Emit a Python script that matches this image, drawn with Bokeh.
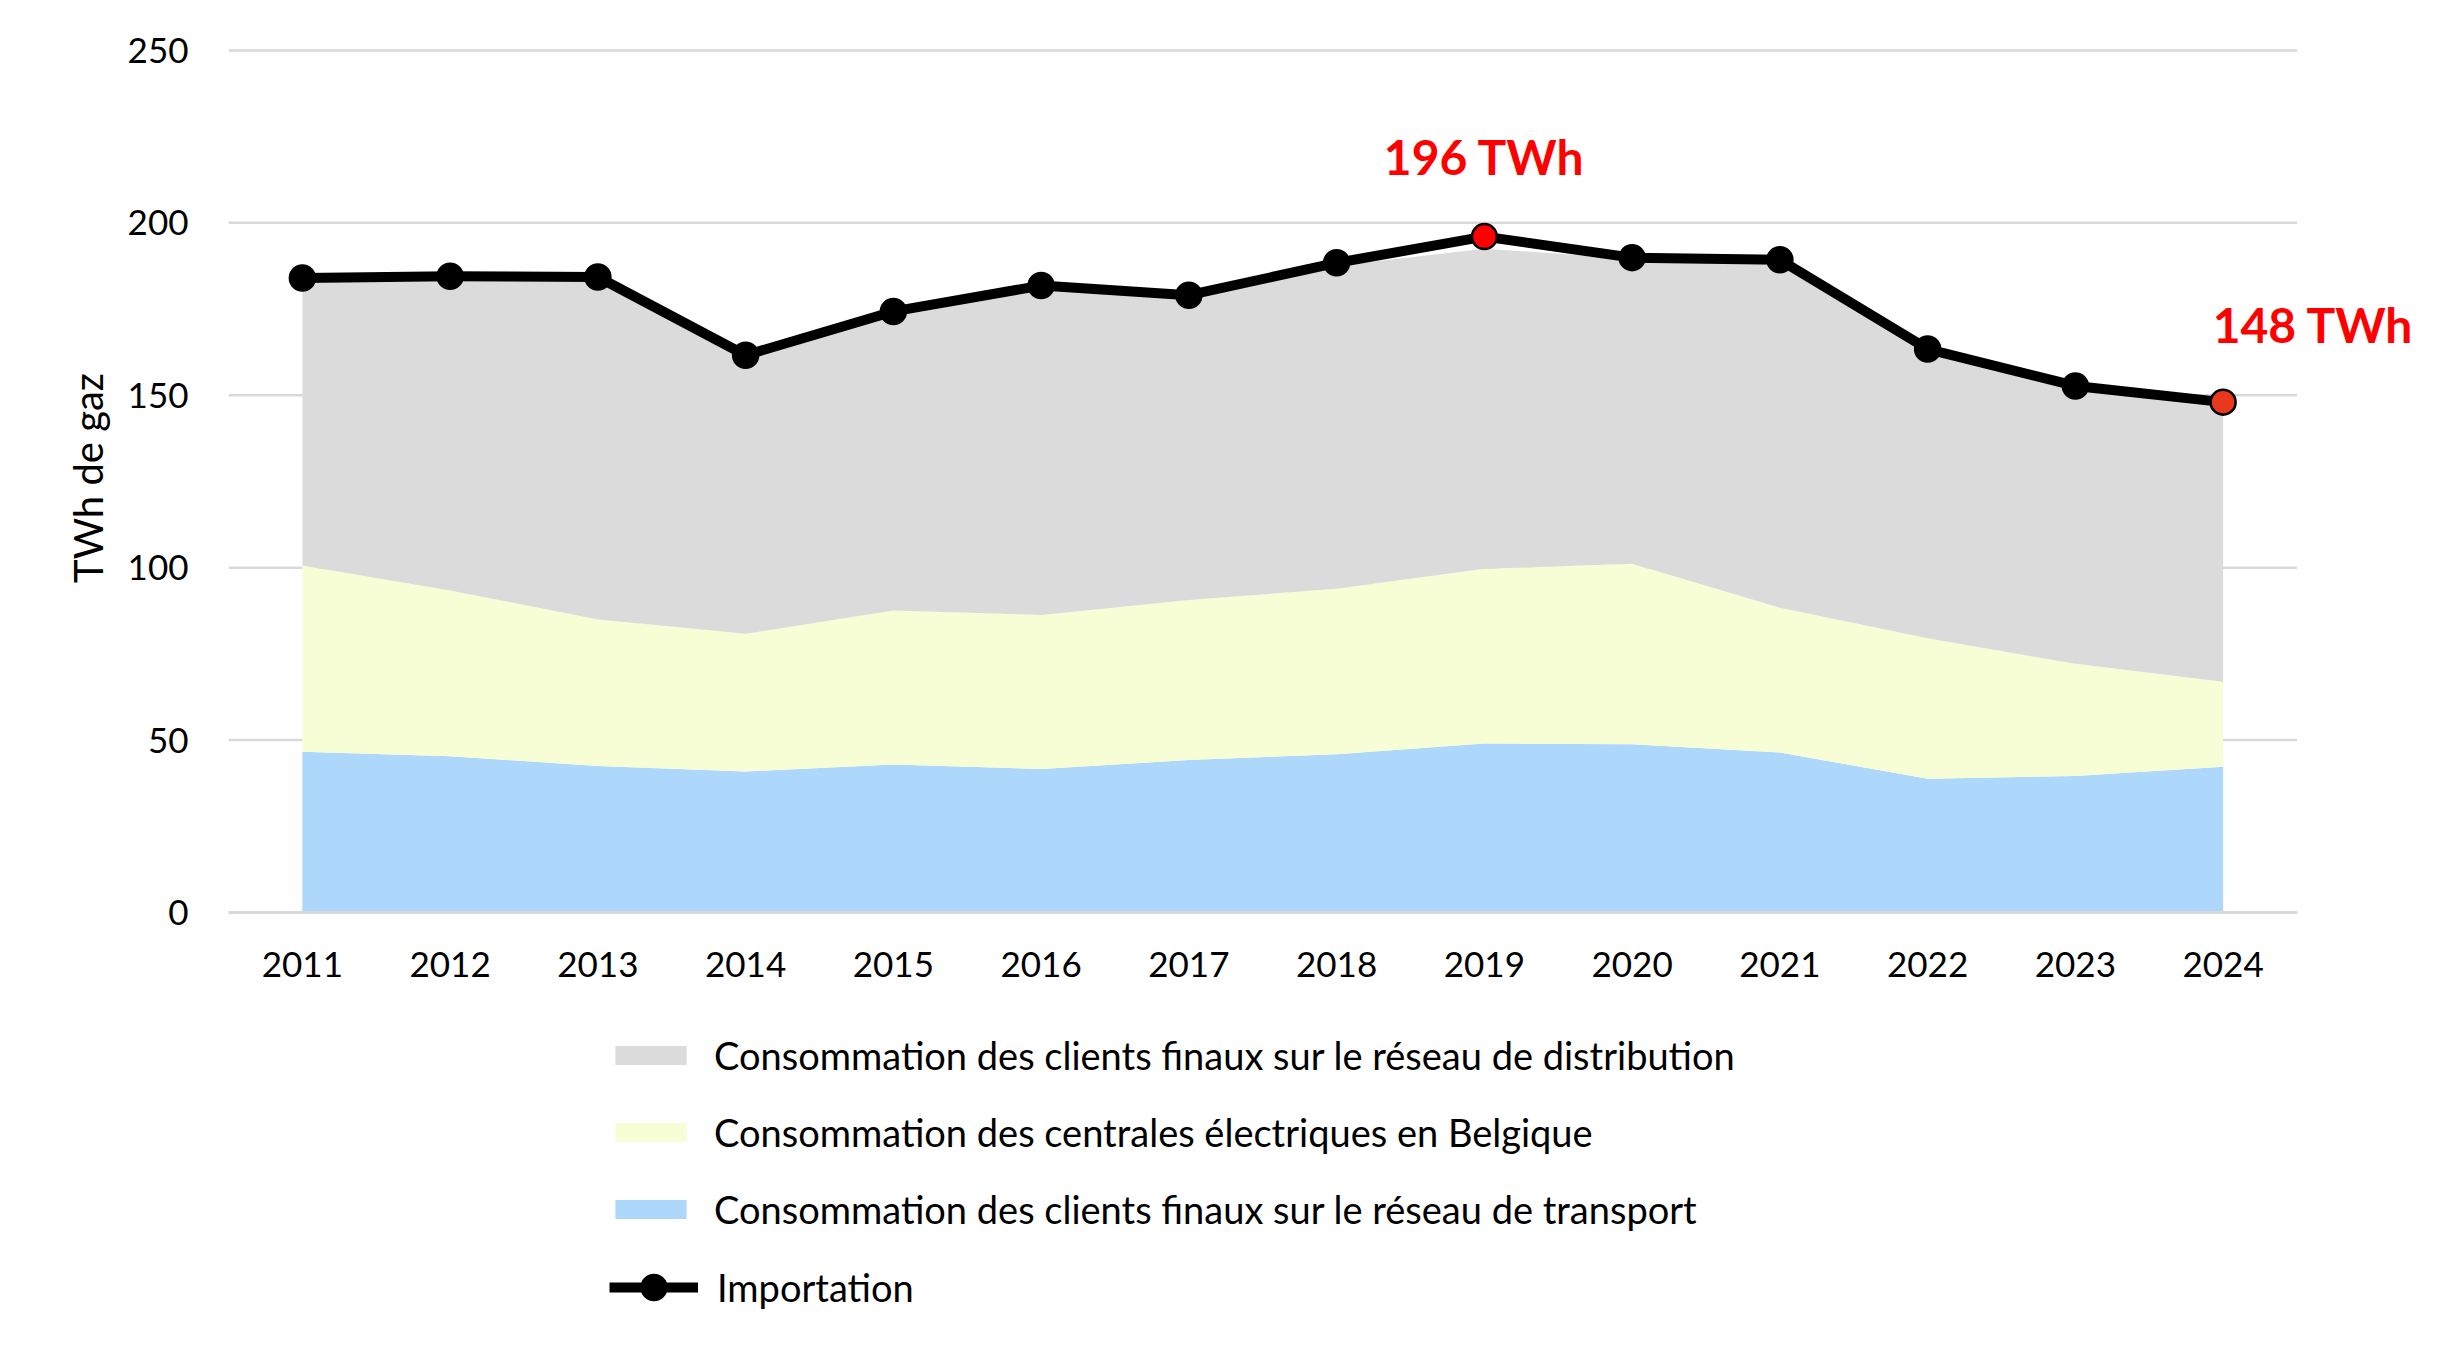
from bokeh.plotting import figure
from bokeh.layouts import column
from bokeh.models import Range1d, FixedTicker, Legend, LegendItem, Label, ColumnDataSource
from bokeh.embed import file_html
from bokeh.resources import INLINE

years = list(range(2011, 2025))
transport = [46.6, 45.3, 42.5, 40.9, 42.9, 41.6, 44.2, 45.9, 49.0, 48.8, 46.4, 38.8, 39.6, 42.3]
centrales = [54.0, 48.1, 42.5, 39.9, 44.7, 44.7, 46.4, 48.0, 50.7, 52.3, 42.0, 40.7, 32.5, 24.6]
distribution = [82.9, 90.9, 99.0, 80.6, 86.4, 95.3, 88.9, 93.6, 92.8, 88.5, 100.6, 83.5, 80.4, 81.1]
importation = [184.0, 184.5, 184.3, 161.6, 174.3, 181.8, 179.0, 188.4, 196.0, 189.9, 189.3, 163.4, 152.7, 148.0]
marker_colors = ["black"] * 8 + ["#FF0000"] + ["black"] * 4 + ["#E8391D"]
y_ticks = [0, 50, 100, 150, 200, 250]

labels_legend = [
    "Consommation des clients finaux sur le réseau de distribution",
    "Consommation des centrales électriques en Belgique",
    "Consommation des clients finaux sur le réseau de transport",
    "Importation",
]
annotations = [(2019, 219.2, "196 TWh"), (2024.61, 170.5, "148 TWh")]

FONT = "Lato"
GRAY = "#DBDBDB"
YELLOW = "#F7FDD4"
BLUE = "#ADD8FC"
GRID = "#D9D9D9"

X0, X1 = 2010.5, 2024.5

src = ColumnDataSource(dict(year=years, transport=transport, centrales=centrales,
                            distribution=distribution, importation=importation,
                            mcolor=marker_colors))

# ---------------- main chart ----------------
p = figure(width=2448, height=992, output_backend="svg", toolbar_location=None,
           x_range=Range1d(X0, 2025.39), y_range=Range1d(0, 252),
           min_border_left=228, min_border_right=20, min_border_top=43,
           min_border_bottom=80)
p.outline_line_color = None
p.background_fill_color = "white"
p.xgrid.visible = False
p.ygrid.visible = False

# horizontal gridlines limited to the category band area
p.segment(x0=[X0] * len(y_ticks), x1=[X1] * len(y_ticks), y0=y_ticks, y1=y_ticks,
          line_color=GRID, line_width=2.5)

areas = p.varea_stack(["transport", "centrales", "distribution"], x="year", source=src,
                      color=[BLUE, YELLOW, GRAY])
line = p.line("year", "importation", source=src, line_width=10, line_color="black",
              line_join="round")
pts = p.scatter("year", "importation", source=src, size=25, fill_color="mcolor",
                line_color="black", line_width=2.5)

p.yaxis.ticker = FixedTicker(ticks=y_ticks)
p.yaxis.axis_line_color = None
p.yaxis.major_tick_line_color = None
p.yaxis.minor_tick_line_color = None
p.yaxis.major_label_standoff = 34
p.yaxis.major_label_text_font = FONT
p.yaxis.major_label_text_font_size = "35px"
p.yaxis.major_label_text_color = "black"
p.yaxis.axis_label = "TWh de gaz"
p.yaxis.axis_label_text_font = FONT
p.yaxis.axis_label_text_font_size = "40px"
p.yaxis.axis_label_text_font_style = "normal"
p.yaxis.axis_label_text_color = "black"
p.yaxis.axis_label_standoff = 13

p.xaxis.ticker = FixedTicker(ticks=years)
p.xaxis.bounds = (X0, X1)
p.xaxis.axis_line_color = GRID
p.xaxis.axis_line_width = 3
p.xaxis.major_tick_line_color = None
p.xaxis.minor_tick_line_color = None
p.xaxis.major_label_standoff = 33
p.xaxis.major_label_text_font = FONT
p.xaxis.major_label_text_font_size = "35px"
p.xaxis.major_label_text_color = "black"

for x, y, t in annotations:
    p.add_layout(Label(x=x, y=y, text=t, text_align="center", text_baseline="alphabetic",
                       text_font=FONT, text_font_style="bold", text_font_size="48px",
                       text_color="#FF0000"))

# ---------------- legend strip ----------------
# same data, drawn outside this strip's visible range: only the legend shows
p2 = figure(width=2448, height=341, output_backend="svg", toolbar_location=None,
            x_range=Range1d(0, 1), y_range=Range1d(0, 1),
            x_axis_type=None, y_axis_type=None,
            min_border_left=0, min_border_right=0, min_border_top=0, min_border_bottom=0)
p2.outline_line_color = None
p2.xgrid.visible = False
p2.ygrid.visible = False

lg_areas = p2.varea_stack(["transport", "centrales", "distribution"], x="year", source=src,
                          color=[BLUE, YELLOW, GRAY])
lg_line = p2.line("year", "importation", source=src, line_width=10, line_color="black")
lg_pts = p2.scatter("year", "importation", source=src, size=25, fill_color="black",
                    line_color="black", line_width=2.5)

common = dict(orientation="vertical", glyph_width=89, label_standoff=19,
              padding=0, margin=0, border_line_color=None, background_fill_alpha=0,
              label_text_font=FONT, label_text_font_size="38px",
              label_text_color="black", label_height=46)

leg1 = Legend(items=[LegendItem(label=labels_legend[0], renderers=[lg_areas[2]]),
                     LegendItem(label=labels_legend[1], renderers=[lg_areas[1]]),
                     LegendItem(label=labels_legend[2], renderers=[lg_areas[0]])],
              location=(378, 101), glyph_height=24, spacing=31, **common)
leg2 = Legend(items=[LegendItem(label=labels_legend[3], renderers=[lg_line, lg_pts])],
              location=(381, 15), glyph_height=62, spacing=0, **common)
p2.add_layout(leg1, "center")
p2.add_layout(leg2, "center")

open("out.html", "w").write(file_html(column(p, p2), INLINE))
